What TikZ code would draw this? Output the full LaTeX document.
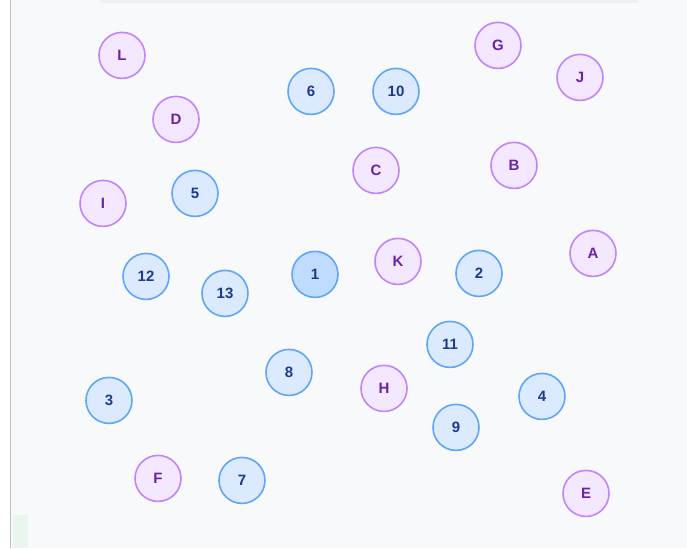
\documentclass[tikz,border=0pt]{standalone}
\usepackage{fontspec}
\setmainfont{Liberation Sans}
\usetikzlibrary{positioning}
\definecolor{pagebg}{RGB}{248,249,251}
\definecolor{barbg}{RGB}{237,239,243}
\definecolor{edgegray}{RGB}{190,192,196}
\definecolor{mintbg}{RGB}{234,245,238}
\definecolor{numfill}{RGB}{219,234,254}
\definecolor{numfillhi}{RGB}{191,219,254}
\definecolor{numdraw}{RGB}{96,165,250}
\definecolor{numtext}{RGB}{30,58,138}
\definecolor{letfill}{RGB}{243,232,255}
\definecolor{letdraw}{RGB}{192,132,252}
\definecolor{lettext}{RGB}{107,33,168}

\begin{document}
\begin{tikzpicture}[
  x=1pt, y=-1pt,
  dot/.style={circle, minimum size=46pt, inner sep=0pt, line width=1.6pt,
              font=\fontsize{15}{15}\selectfont\bfseries},
  num/.style={dot, draw=numdraw, fill=numfill, text=numtext},
  numhi/.style={num, fill=numfillhi},
  let/.style={dot, draw=letdraw, fill=letfill, text=lettext},
]
  % page frame
  \fill[white] (0,0) rectangle (687,548);
  \fill[pagebg] (10,0) rectangle (687,548);
  \fill[barbg] (100,0) rectangle (638,3);
  \draw[edgegray, line width=0.8pt] (10,0) -- (10,548);
  \fill[mintbg] (13,515) rectangle (28,548);
  \useasboundingbox (0,0) rectangle (687,548);

  % letter nodes
  \node[let] (L) at (122,55) {L};
  \node[let] (G) at (498,45) {G};
  \node[let] (J) at (580,77) {J};
  \node[let] (D) at (176,119) {D};
  \node[let] (C) at (376,170) {C};
  \node[let] (B) at (514,165) {B};
  \node[let] (I) at (103,203) {I};
  \node[let] (A) at (593,253) {A};
  \node[let] (K) at (398,261) {K};
  \node[let] (H) at (384,388) {H};
  \node[let] (F) at (158,478) {F};
  \node[let] (E) at (586,493) {E};

  % number nodes
  \node[num] (n6) at (311,91) {6};
  \node[num] (n10) at (396,91) {10};
  \node[num] (n5) at (195,193) {5};
  \node[numhi] (n1) at (315,274) {1};
  \node[num] (n2) at (479,273) {2};
  \node[num] (n12) at (146,276) {12};
  \node[num] (n13) at (225,293) {13};
  \node[num] (n11) at (450,344) {11};
  \node[num] (n8) at (289,372) {8};
  \node[num] (n4) at (542,396) {4};
  \node[num] (n3) at (109,400) {3};
  \node[num] (n9) at (456,427) {9};
  \node[num] (n7) at (242,480) {7};
\end{tikzpicture}
\end{document}
